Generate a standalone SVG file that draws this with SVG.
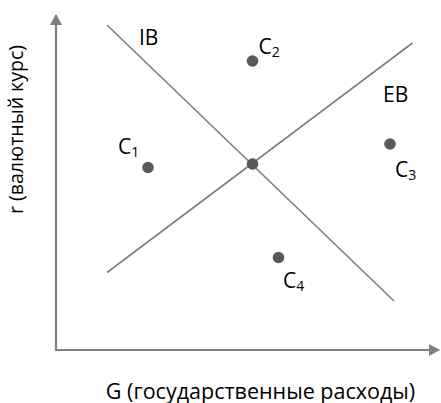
<svg xmlns="http://www.w3.org/2000/svg" width="441" height="403" viewBox="0 0 441 403">
<style>
.axis{stroke:#808080;stroke-width:2.2;fill:none}
.ln{stroke:#7f7f7f;stroke-width:1.6;fill:none}
.dot{fill:#595959}
text{font-family:"Open Sans","Liberation Sans",Arial,sans-serif;fill:#000}
.lb{font-size:21px}
.sub{font-size:14px}
.ax{font-size:21.5px}
.ay{font-size:19.5px}
</style>
<defs>
<marker id="ah" markerWidth="12" markerHeight="12" refX="10" refY="6" orient="auto" markerUnits="userSpaceOnUse">
<path d="M0,0 L11,6 L0,12 z" fill="#808080"/>
</marker>
</defs>
<g id="connectors">
<line class="axis" x1="56" y1="351" x2="56" y2="15" marker-end="url(#ah)"/>
<line class="axis" x1="55" y1="350" x2="439" y2="350" marker-end="url(#ah)"/>
<line id="IB" class="ln" x1="107" y1="25" x2="394" y2="301"/>
<line id="EB" class="ln" x1="107" y1="272.5" x2="412.5" y2="43"/>
</g>
<g id="E"><circle class="dot" cx="252.5" cy="164" r="5.8"/></g>
<g id="C1"><circle class="dot" cx="148" cy="167.5" r="5.8"/><text class="lb" x="118" y="153.5">C<tspan class="sub" dy="3">1</tspan></text></g>
<g id="C2"><circle class="dot" cx="252.5" cy="61" r="5.8"/><text class="lb" x="258.5" y="54">C<tspan class="sub" dy="3">2</tspan></text></g>
<g id="C3"><circle class="dot" cx="390" cy="144" r="5.8"/><text class="lb" x="395" y="177">C<tspan class="sub" dy="3">3</tspan></text></g>
<g id="C4"><circle class="dot" cx="278.5" cy="257.5" r="5.8"/><text class="lb" x="283" y="288">C<tspan class="sub" dy="3">4</tspan></text></g>
<g id="IBlabel"><text class="lb" x="139" y="45">IB</text></g>
<g id="EBlabel"><text class="lb" x="383" y="101.5">EB</text></g>
<g id="xlabel"><text class="ax" x="260.5" y="398.5" text-anchor="middle">G (государственные расходы)</text></g>
<g id="ylabel"><text class="ay" transform="translate(23,129.5) rotate(-90)" text-anchor="middle">r (валютный курс)</text></g>
</svg>
